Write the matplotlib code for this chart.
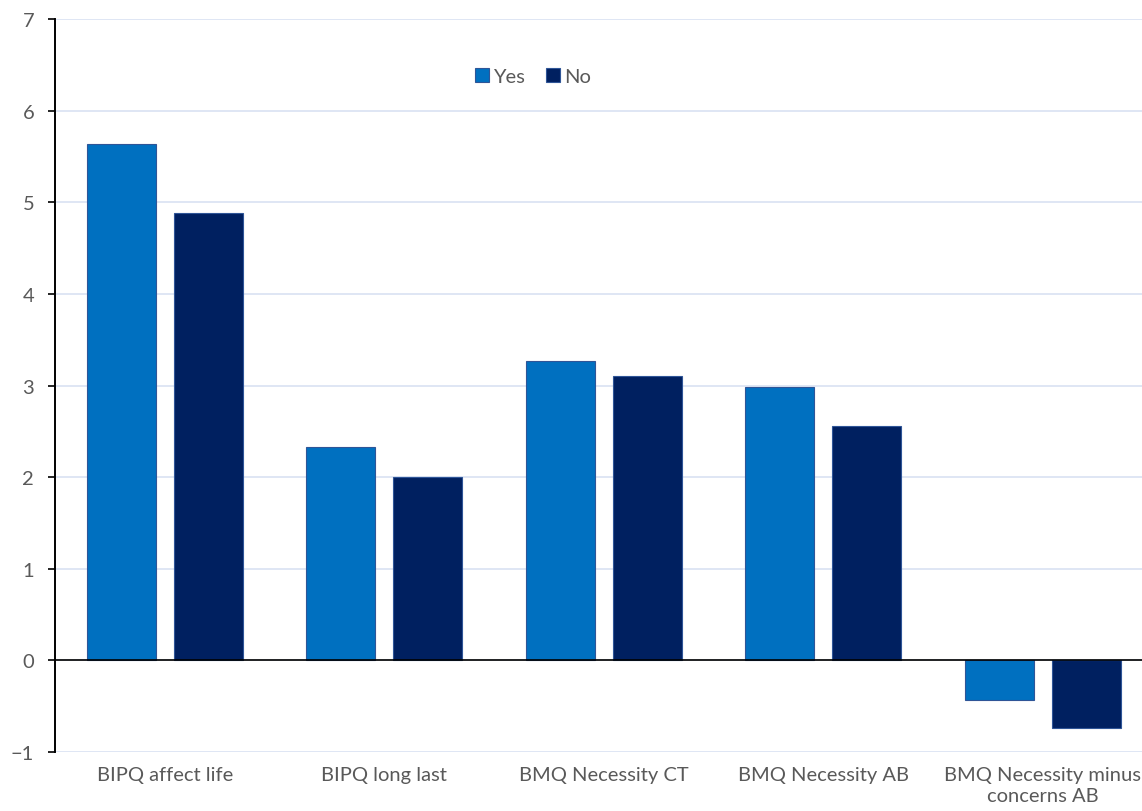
import matplotlib
matplotlib.use("Agg")
import matplotlib.pyplot as plt
import numpy as np

categories = ["BIPQ affect life", "BIPQ long last", "BMQ Necessity CT",
              "BMQ Necessity AB", "BMQ Necessity minus\nconcerns AB"]
yes_vals = [5.64, 2.33, 3.27, 2.98, -0.43]
no_vals = [4.88, 2.00, 3.10, 2.56, -0.74]

plt.rcParams["font.family"] = ["Lato", "DejaVu Sans"]
TXT = "#595959"
FS = 14.5

fig = plt.figure(figsize=(11.42, 8.12), dpi=100)
# axes run a little past the right edge, as in the original
ax = fig.add_axes([55 / 1142, 59 / 812, 1097.5 / 1142, 733 / 812])

x = np.arange(len(categories))
w = 0.314
off = 0.198
ax.bar(x - off, yes_vals, w, color="#0070C0", edgecolor="#2F5597", linewidth=0.8,
       label="Yes", zorder=3)
ax.bar(x + off, no_vals, w, color="#002060", edgecolor="#2F5597", linewidth=0.8,
       label="No", zorder=3)

ax.set_xlim(-0.5, len(categories) - 0.5)
ax.set_ylim(-1, 7)
ax.set_yticks(range(-1, 8))
ax.set_xticks(x)
ax.set_xticklabels(categories, fontsize=FS, color=TXT, linespacing=1.3)
ax.tick_params(axis="y", labelsize=FS, labelcolor=TXT, length=5, width=1.2,
               direction="out", pad=10)
ax.tick_params(axis="x", length=0, pad=10)

ax.grid(axis="y", color="#D9E1F2", linewidth=1.2, zorder=0)
ax.axhline(0, color="black", linewidth=1.2, zorder=4)
for s in ("top", "right", "bottom"):
    ax.spines[s].set_visible(False)
ax.spines["left"].set_linewidth(1.4)

ax.legend(loc="center", bbox_to_anchor=(0.4355, 0.921), ncol=2, frameon=False,
          fontsize=FS, labelcolor=TXT, handlelength=0.7, handleheight=0.7,
          handletextpad=0.2, columnspacing=1.0)

fig.savefig("out.png", dpi=100)
